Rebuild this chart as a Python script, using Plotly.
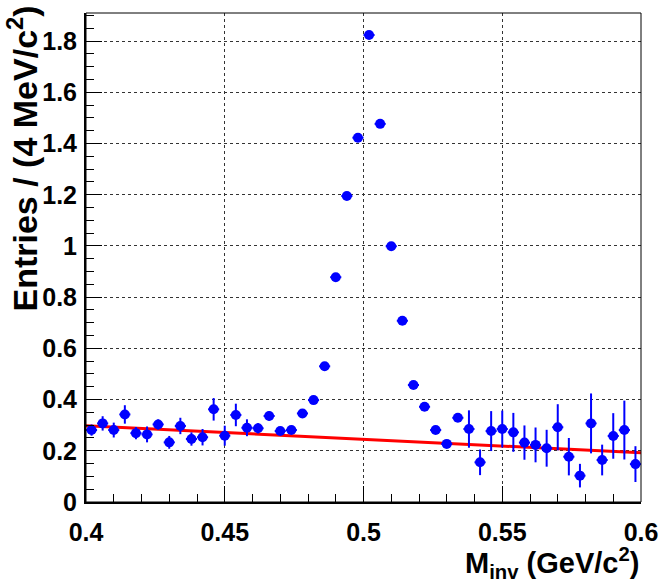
import plotly.graph_objects as go

# ---- data ----
bin_centers = [0.402, 0.406, 0.410, 0.414, 0.418, 0.422, 0.426, 0.430, 0.434, 0.438,
               0.442, 0.446, 0.450, 0.454, 0.458, 0.462, 0.466, 0.470, 0.474, 0.478,
               0.482, 0.486, 0.490, 0.494, 0.498, 0.502, 0.506, 0.510, 0.514, 0.518,
               0.522, 0.526, 0.530, 0.534, 0.538, 0.542, 0.546, 0.550, 0.554, 0.558,
               0.562, 0.566, 0.570, 0.574, 0.578, 0.582, 0.586, 0.590, 0.594, 0.598]
bin_half_width = 0.002

entries = [0.281, 0.307, 0.281, 0.342, 0.269, 0.264, 0.303, 0.233, 0.297, 0.246,
           0.253, 0.362, 0.259, 0.340, 0.290, 0.288, 0.336, 0.277, 0.281, 0.346,
           0.398, 0.530, 0.878, 1.195, 1.423, 1.824, 1.477, 0.999, 0.708, 0.457,
           0.372, 0.281, 0.227, 0.329, 0.285, 0.155, 0.277, 0.285, 0.272, 0.232,
           0.223, 0.210, 0.292, 0.177, 0.103, 0.307, 0.164, 0.258, 0.281, 0.148]

errors = [0.022, 0.028, 0.029, 0.036, 0.024, 0.031, 0.020, 0.025, 0.032, 0.026,
          0.032, 0.044, 0.039, 0.044, 0.033, 0.020, 0.018, 0.012, 0.012, 0.012,
          0.012, 0.012, 0.012, 0.012, 0.012, 0.012, 0.012, 0.012, 0.012, 0.012,
          0.012, 0.012, 0.012, 0.012, 0.073, 0.050, 0.078, 0.072, 0.076, 0.067,
          0.068, 0.072, 0.090, 0.073, 0.046, 0.117, 0.060, 0.089, 0.115, 0.070]

fit_x = [0.4, 0.6]
fit_y = [0.298, 0.192]

x_tickvals = [0.4, 0.45, 0.5, 0.55, 0.6]
x_ticktext = ["0.4", "0.45", "0.5", "0.55", "0.6"]
y_tickvals = [0, 0.2, 0.4, 0.6, 0.8, 1.0, 1.2, 1.4, 1.6, 1.8]
y_ticktext = ["0", "0.2", "0.4", "0.6", "0.8", "1", "1.2", "1.4", "1.6", "1.8"]

x_title = "M<sub>inv</sub> (GeV/c<sup>2</sup>)"
y_title = "Entries / (4 MeV/c<sup>2</sup>)"

# ---- figure ----
SANS = "Liberation Sans, Arial, Helvetica, sans-serif"

fig = go.Figure()
fig.add_trace(go.Scatter(
    x=fit_x, y=fit_y, mode="lines",
    line=dict(color="#ff0000", width=3), hoverinfo="skip", showlegend=False))
fig.add_trace(go.Scatter(
    x=bin_centers, y=entries, mode="markers",
    marker=dict(color="#0000ff", size=10, line=dict(width=0)),
    error_y=dict(type="data", array=errors, color="#0000ff", thickness=2, width=0),
    error_x=dict(type="constant", value=bin_half_width, color="#0000ff", thickness=2, width=0),
    showlegend=False))

axis_common = dict(
    showline=True, linecolor="black", linewidth=2,
    ticks="inside", ticklen=16, tickwidth=1, tickcolor="black",
    showgrid=True, gridcolor="#333333", griddash="dot", gridwidth=1,
    zeroline=False, automargin=False, ticklabeloverflow="allow",
    tickfont=dict(family=SANS, size=25, color="black", weight="bold"),
)

fig.update_layout(
    width=662, height=582,
    margin=dict(l=86, r=21, t=13, b=80, autoexpand=False),
    paper_bgcolor="white", plot_bgcolor="white",
    xaxis=dict(range=[0.4, 0.6], tickvals=x_tickvals, ticktext=x_ticktext,
               ticklabelstandoff=7,
               minor=dict(dtick=0.01, ticks="inside", ticklen=8, tickcolor="black",
                          tickwidth=1, showgrid=False),
               **axis_common),
    yaxis=dict(range=[0, 1.91], tickvals=y_tickvals, ticktext=y_ticktext,
               ticklabelstandoff=2,
               minor=dict(dtick=0.05, ticks="inside", ticklen=8, tickcolor="black",
                          tickwidth=1, showgrid=False),
               **axis_common),
    shapes=[dict(type="rect", xref="paper", yref="paper", x0=0, x1=1, y0=0, y1=1,
                 line=dict(color="black", width=1), layer="above")],
    annotations=[
        dict(text=x_title, xref="paper", yref="paper", x=1.0, y=-0.125,
             xanchor="right", yanchor="middle", showarrow=False,
             font=dict(family=SANS, size=29, color="black", weight="bold")),
        dict(text=y_title, xref="paper", yref="paper", x=-0.115, y=1.0198,
             xanchor="center", yanchor="top", textangle=-90, showarrow=False,
             font=dict(family=SANS, size=34, color="black", weight="bold")),
    ],
)

fig.write_html("out.html")
